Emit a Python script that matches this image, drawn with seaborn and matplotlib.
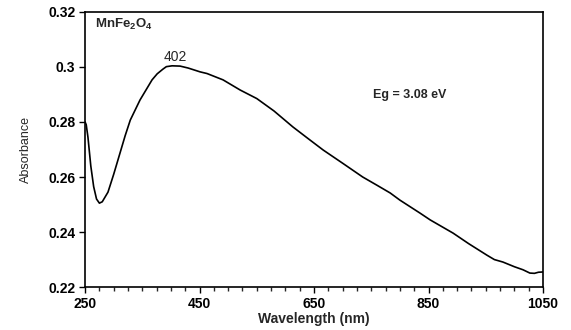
import numpy as np
import pandas as pd
import seaborn as sns
import matplotlib.pyplot as plt
from matplotlib.ticker import MultipleLocator

# values
wavelength = [250, 252, 255, 260, 265, 270, 275, 280, 290, 300, 311, 320, 329,
              346, 367, 376, 386, 392, 402, 416, 430, 451, 463, 491,
              521, 550, 580, 613, 640, 666, 700, 735, 760, 783, 800, 835,
              853, 893, 920, 952, 965, 980, 1000, 1015, 1027, 1035, 1042, 1050]
absorbance = [0.2800, 0.2790, 0.2745, 0.2640, 0.2565, 0.2520, 0.2505, 0.2510,
              0.2545, 0.2610, 0.2687, 0.2750, 0.2807, 0.2880, 0.2953, 0.2975,
              0.2992, 0.3001, 0.3004, 0.3003, 0.2996, 0.2982, 0.2976, 0.2953,
              0.2916, 0.2885, 0.2840, 0.2782, 0.2739, 0.2698, 0.2650, 0.2600,
              0.2570, 0.2542, 0.2516, 0.2469, 0.2444, 0.2396, 0.2358, 0.2316,
              0.2300, 0.2291, 0.2274, 0.2263, 0.2251, 0.2250, 0.2254, 0.2255]

df = pd.DataFrame({"wavelength": wavelength, "absorbance": absorbance})

sns.set_style("ticks")
plt.rcParams["font.family"] = ["Liberation Sans", "DejaVu Sans"]
plt.rcParams["mathtext.fontset"] = "custom"
plt.rcParams["mathtext.rm"] = "Liberation Sans"
plt.rcParams["mathtext.bf"] = "Liberation Sans:bold"

fig = plt.figure(figsize=(5.71, 3.30), dpi=100)
ax = fig.add_axes([0.149, 0.130, 0.802, 0.834])

sns.lineplot(data=df, x="wavelength", y="absorbance", color="black",
             linewidth=1.2, ax=ax)

ax.set_xlim(250, 1050)
ax.set_ylim(0.22, 0.32)
ax.set_xticks([250, 450, 650, 850, 1050])
ax.xaxis.set_minor_locator(MultipleLocator(25))
ax.set_yticks([0.22, 0.24, 0.26, 0.28, 0.3, 0.32])
ax.set_yticklabels(["0.22", "0.24", "0.26", "0.28", "0.3", "0.32"])
ax.tick_params(axis="both", which="major", direction="out", length=4,
               width=1, labelsize=10, pad=3, colors="black")
ax.tick_params(axis="x", which="minor", direction="out", length=3, width=1)
for lab in ax.get_xticklabels() + ax.get_yticklabels():
    lab.set_fontweight("bold")
for s in ax.spines.values():
    s.set_visible(True)
    s.set_linewidth(1.2)
    s.set_color("black")

ax.set_xlabel("Wavelength (nm)", fontsize=10, fontweight="bold", labelpad=1)
ax.set_ylabel("Absorbance", fontsize=9, labelpad=12)

ax.text(267, 0.3153, r"MnFe$_\mathbf{2}$O$_\mathbf{4}$", fontsize=9.5,
        fontweight="bold", va="center", ha="left")
ax.text(408, 0.3036, "402", fontsize=10, va="center", ha="center")
ax.text(753, 0.2898, "Eg = 3.08 eV", fontsize=9, fontweight="bold",
        va="center", ha="left")

fig.savefig("out.png", dpi=100)
